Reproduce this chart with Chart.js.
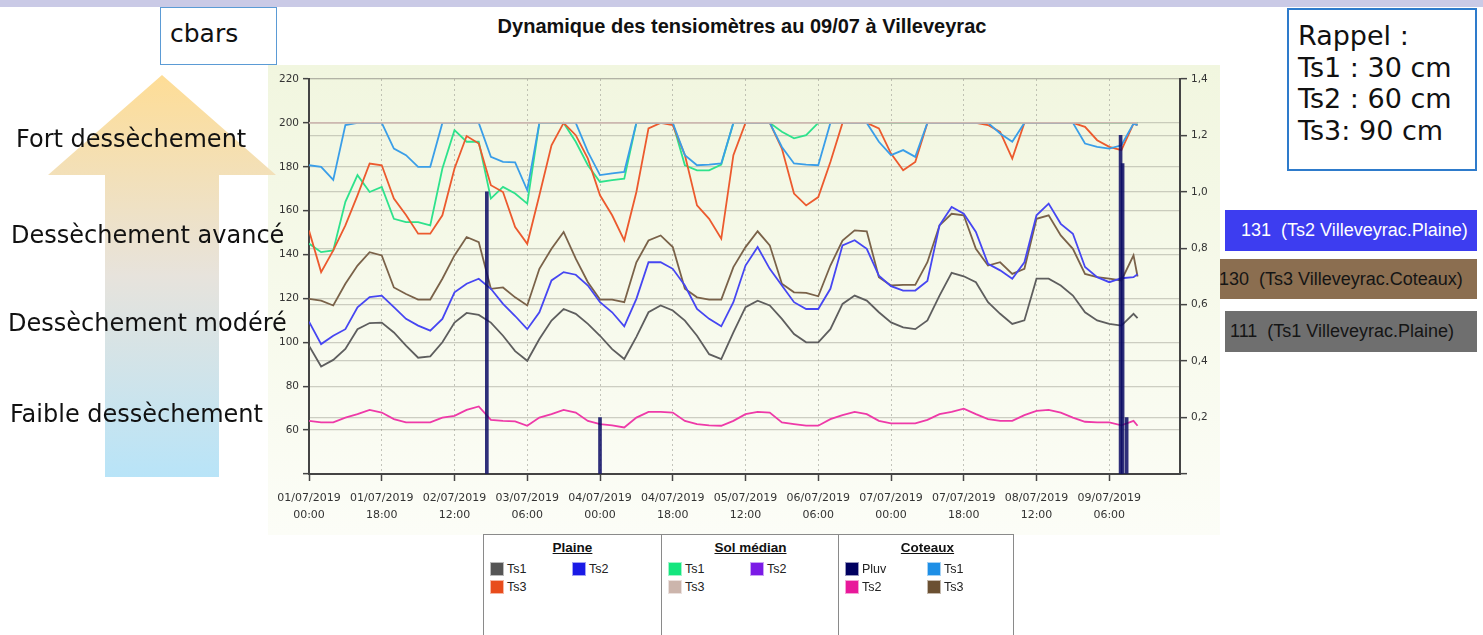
<!DOCTYPE html>
<html>
<head>
<meta charset="utf-8">
<script src="https://cdn.jsdelivr.net/npm/chart.js@4.4.0/dist/chart.umd.min.js"></script>
<style>
  body { margin: 0; width: 1483px; height: 635px; background: #fff; position: relative; overflow: hidden; font-family: "DejaVu Sans", sans-serif; }
  .abs { position: absolute; }
  #topbar { left: 0; top: 0; width: 1483px; height: 7px; background: #cacae6; }
  #title { left: 292px; top: 15px; width: 900px; text-align: center; font: bold 20px "Liberation Sans", Arial, sans-serif; color: #111; }
  #cbars { left: 160px; top: 7px; width: 117px; height: 58px; border: 1.5px solid #5b9bd5; box-sizing: border-box; font-size: 25px; padding: 11px 0 0 9px; color: #111; }
  #rappel { left: 1287px; top: 8px; width: 190px; height: 163px; border: 2px solid #2e7bcb; box-sizing: border-box; font-size: 27px; line-height: 31.5px; padding: 10px 0 0 9px; color: #111; white-space: nowrap; }
  .lvl { font-size: 24px; color: #111; white-space: nowrap; z-index: 3; }
  .tag { height: 41px; font: 18px "Liberation Sans", Arial, sans-serif; line-height: 41px; white-space: nowrap; overflow: hidden; box-sizing: border-box; }
  #chartBox { left: 268px; top: 65px; width: 952px; height: 470px; z-index: 1; }
  #arrow { z-index: 2; }
  #legend { left: 483px; top: 534px; width: 531px; height: 110px; border: 1.5px solid #8a8a8a; box-sizing: border-box; font-family: "Liberation Sans", Arial, sans-serif; z-index: 3; background: #fff; }
  .col { position: absolute; top: 0; width: 177px; height: 110px; }
  .col h4 { margin: 0; position: absolute; top: 5px; width: 100%; text-align: center; font-size: 13.5px; text-decoration: underline; color: #111; }
  .item { position: absolute; font-size: 12.5px; color: #222; line-height: 14px; }
  .item span { position: absolute; left: 0; top: 0; width: 14px; height: 14px; box-sizing: border-box; border: 1px solid rgba(255,255,255,0.6); }
  .item b { font-weight: normal; position: absolute; left: 17px; top: 0; }
</style>
</head>
<body>
<div id="topbar" class="abs"></div>
<div id="title" class="abs">Dynamique des tensiomètres au 09/07 à Villeveyrac</div>
<div id="cbars" class="abs">cbars</div>
<div id="rappel" class="abs">Rappel :<br>Ts1 : 30 cm<br>Ts2 : 60 cm<br>Ts3: 90 cm</div>

<svg id="arrow" class="abs" style="left:0;top:0" width="300" height="490">
  <defs>
    <linearGradient id="arrowGrad" x1="0" y1="75" x2="0" y2="477" gradientUnits="userSpaceOnUse">
      <stop offset="0" stop-color="#fedd96"/>
      <stop offset="0.5" stop-color="#e7e3dc"/>
      <stop offset="1" stop-color="#b8e4f8"/>
    </linearGradient>
  </defs>
  <polygon points="162,75 276,175 219,175 219,477 105,477 105,175 48,175" fill="url(#arrowGrad)"/>
</svg>
<div class="abs lvl" style="left:16px;top:125px">Fort dessèchement</div>
<div class="abs lvl" style="left:11px;top:221px">Dessèchement avancé</div>
<div class="abs lvl" style="left:8px;top:309px">Dessèchement modéré</div>
<div class="abs lvl" style="left:10px;top:400px">Faible dessèchement</div>

<div id="chartBox" class="abs"><canvas id="chart" width="952" height="470"></canvas></div>

<div class="abs tag" style="left:1225px;top:210px;width:252px;background:#3d3df0;color:#fff;padding-left:16px">131&nbsp; (Ts2 Villeveyrac.Plaine)</div>
<div class="abs tag" style="left:1219px;top:259px;width:258px;height:40px;line-height:40px;background:#8b6e50;color:#151515;padding-left:0">130&nbsp; (Ts3 Villeveyrac.Coteaux)</div>
<div class="abs tag" style="left:1225px;top:311px;width:252px;background:#6f6f6f;color:#151515;padding-left:5px">111&nbsp; (Ts1 Villeveyrac.Plaine)</div>

<div id="legend" class="abs"></div>

<script>
// time axis: hours since 01/07/2019 00:00
const hours = [0,3,6,9,12,15,18,21,24,27,30,33,36,39,42,45,48,51,54,57,60,63,66,69,72,75,78,81,84,87,90,93,96,99,102,105,108,111,114,117,120,123,126,129,132,135,138,141,144,147,150,153,156,159,162,165,168,171,174,177,180,183,186,189,192,195,198,201,204,205];

// Plaine
const plaineTs1 = [98.5,89,92,97,106,108.8,109,104.5,98.5,93,93.6,100,109,113.4,112.5,109,103,96,91.6,101.5,109.9,115.2,113,108.4,103,96.9,92.4,102.5,113.7,116.8,114.5,109.9,103,94.6,92.4,104.5,116,119,116.8,110.7,103.8,100,100,106,117.5,121.3,119,113.7,109.1,106.8,106,110,121.3,131.7,130.1,127.4,118.3,113,108.4,110,129,129,125.9,121.3,113.7,110,108.4,107.6,113,111];
const plaineTs2 = [109.4,99.2,103,106,116,120.6,121.3,116,110.7,107.6,105.3,110.7,122.8,126.7,129,124.4,117.5,112,106,113.7,128.2,132,130.8,125.9,118.3,113.7,107.3,119.8,136.5,136.5,133.5,125.9,115.2,110.7,107.3,118.3,135,143.4,133.5,125.9,118.3,115.2,115.2,124.4,144.2,146.5,142.6,130.4,125.6,123.6,123.6,128,153.3,161.7,158.6,150.3,135.8,132.8,129,136.5,157.9,163.2,154,149.5,134.3,129.7,127.4,129.2,129.7,131];
const plaineTs3 = [151,132,141.9,153.3,167,181.5,180.7,165.5,158,149.5,149.5,157.9,179.2,194,190.6,171.6,168.5,152.5,144.9,167,189.8,200,194.4,183.7,167,157.9,146.5,168.5,197.5,200,199,185.3,162.4,156.3,147.2,185.3,200,200,200,188.3,167.8,162.4,166.2,182.2,200,200,200,197.5,186,178.4,182.2,200,200,200,200,200,199,195.9,183.7,200,200,200,200,200,198.2,192.1,189.1,187.6,199.7,199];

// Sol médian
const solTs1 = [145,141.1,141.9,164,176.2,168.5,170.8,156.3,154.8,154.8,153.3,179.2,196.7,191.4,191.4,165.5,170.8,167.8,163.2,200,200,200,191.4,180.7,173.1,173.9,174.6,200,200,200,200,180.7,178.4,178.4,181,200,200,200,200,196,193,194.4,200,200,200,200,200,200,200,200,200,200,200,200,200,200,200,200,200,200,200,200,200,200,200,200,200,200,200,200];
const solTs2 = [];
const solTs3 = [200,200,200,200,200,200,200,200,200,200,200,200,200,200,200,200,200,200,200,200,200,200,200,200,200,200,200,200,200,200,200,200,200,200,200,200,200,200,200,200,200,200,200,200,200,200,200,200,200,200,200,200,200,200,200,200,200,200,200,200,200,200,200,200,200,200,200,200,200,200];

// Coteaux
const coteauxTs1 = [180.7,180,174,199,200,200,200,188.3,185.3,180,180,200,200,200,200,184.5,182.2,182,169.3,200,200,200,200,186.8,176.2,177,177.7,200,200,200,200,185.3,180.7,181,181.5,200,200,200,200,189,181.5,181,180.7,200,200,200,200,191.4,185.3,187.6,184.5,200,200,200,200,200,200,195.2,191.4,200,200,200,200,200,190.6,189.1,188.3,189.8,199.7,199];
const coteauxTs2 = [64.2,63.5,63.5,65.7,67.3,69.2,68,65,63.5,63.5,63.5,65.7,66.5,69.2,70.8,64.7,64.2,64,62,65.7,67.3,69.2,68,64.2,62.7,62.2,61.2,65.7,68.3,68.3,68,64.2,62.7,62.2,62,64.2,67.3,68.3,68,63.5,62.7,62,62,65,66.8,68.3,67.3,64.2,63.1,63.1,63.1,64.7,67.3,68.3,69.8,67.3,65,64.2,64.2,66.8,68.8,69.2,68,65.7,63.8,63.5,63.5,62.2,64.2,62];
const coteauxTs3 = [119.8,119,116.8,126.7,135,141.1,139.6,125,122,119.5,119.5,129,139.6,148,145.7,124.4,125,120.5,116.8,133.5,142.6,150.3,138.1,127.4,119.5,119.5,118.3,136.5,146.4,148.7,143.4,124.4,120.5,119.5,119.5,134.3,143.4,150.6,144.2,126.7,122.8,122.5,121,135,146.4,151,150.6,129.7,125.9,126.2,126.2,136.5,153.3,158.6,157.9,142.6,135,136.5,131.2,133.5,156.3,157.9,148.7,142.6,131.2,129.7,129,128.2,139.6,130];
const pluvHours = [44, 72, 200.8, 201.3, 202.3];
const pluvValues = [1.0, 0.2, 1.2, 1.1, 0.2];

// x tick labels
const xTickHours = [0,18,36,54,72,90,108,126,144,162,180,198];
const xTickDates = ['01/07/2019','01/07/2019','02/07/2019','03/07/2019','04/07/2019','04/07/2019','05/07/2019','06/07/2019','07/07/2019','07/07/2019','08/07/2019','09/07/2019'];
const xTickTimes = ['00:00','18:00','12:00','06:00','00:00','18:00','12:00','06:00','00:00','18:00','12:00','06:00'];

// legend groups
const legendGroups = [
  { name: 'Plaine', items: [['Ts1','#555555'],['Ts2','#1a1ae6'],['Ts3','#e84c1c']] },
  { name: 'Sol médian', items: [['Ts1','#14e67e'],['Ts2','#7b1ae6'],['Ts3','#ccb5ac']] },
  { name: 'Coteaux', items: [['Pluv','#000060'],['Ts1','#1e8fe6'],['Ts2','#e8189a'],['Ts3','#6b5032']] }
];

const legend = document.getElementById('legend');
legendGroups.forEach((g, gi) => {
  const col = document.createElement('div');
  col.className = 'col';
  col.style.left = (gi * 177) + 'px';
  if (gi > 0) col.style.borderLeft = '1.5px solid #8a8a8a';
  col.innerHTML = '<h4>' + g.name + '</h4>';
  g.items.forEach((it, i) => {
    const d = document.createElement('div');
    d.className = 'item';
    d.style.left = (i % 2 ? 88 : 6) + 'px';
    d.style.top = (Math.floor(i / 2) ? 45 : 27) + 'px';
    d.innerHTML = '<span style="background:' + it[1] + '"></span><b>' + it[0] + '</b>';
    col.appendChild(d);
  });
  legend.appendChild(col);
});

function pts(arr) { return arr.map((v, i) => ({ x: hours[i], y: v })); }

function line(label, arr, color, order) {
  return { type: 'line', label: label, data: pts(arr), borderColor: color, borderWidth: 1.8,
           pointRadius: 0, tension: 0, fill: false, yAxisID: 'y', order: order };
}

const bgPlugin = {
  id: 'bg',
  beforeDraw(chart) {
    const { ctx, width, height } = chart;
    const g = ctx.createLinearGradient(0, 0, 0, height);
    g.addColorStop(0, '#f1f6df');
    g.addColorStop(1, '#fcfdf7');
    ctx.save();
    ctx.fillStyle = g;
    ctx.fillRect(0, 0, width, height);
    ctx.restore();
  }
};

const tickFont = { family: 'DejaVu Sans', size: 10.5 };
const gridCol = 'rgba(150,150,140,0.45)';

const chart = new Chart(document.getElementById('chart'), {
  type: 'line',
  data: {
    datasets: [
      { type: 'bar', label: 'Pluv', data: pluvHours.map((h, i) => ({ x: h, y: pluvValues[i] })),
        backgroundColor: 'rgba(10,10,100,0.85)', barThickness: 3, yAxisID: 'y2', order: 0, grouped: false },
      line('Sol médian Ts3', solTs3, '#cdb8b0', 1),
      line('Plaine Ts3', plaineTs3, '#ec5a2e', 3),
      line('Sol médian Ts1', solTs1, '#2ee28c', 4),
      line('Coteaux Ts1', coteauxTs1, '#3a9ee8', 2),
      line('Coteaux Ts3', coteauxTs3, '#7a6249', 6),
      line('Plaine Ts2', plaineTs2, '#4646f2', 5),
      line('Plaine Ts1', plaineTs1, '#5e5e5e', 7),
      line('Coteaux Ts2', coteauxTs2, '#ee3aa8', 8)
    ]
  },
  options: {
    responsive: false, animation: false,
    layout: { padding: { top: 14, left: 0, right: 0, bottom: 0 } },
    plugins: { legend: { display: false }, tooltip: { enabled: false } },
    scales: {
      x: {
        type: 'linear', min: 0, max: 215.5, offset: false,
        afterBuildTicks: s => { s.ticks = xTickHours.map(v => ({ value: v })); },
        afterFit: s => { s.height = 61; },
        ticks: { autoSkip: false, maxRotation: 0, padding: 9, color: '#333',
                 font: { family: 'DejaVu Sans', size: 11, lineHeight: 1.5 },
                 callback: (v, i) => [xTickDates[i], xTickTimes[i]] },
        grid: { offset: false, color: 'rgba(150,150,140,0.55)', lineWidth: 1, tickLength: 7, tickColor: '#444', tickWidth: 1.5 },
        border: { display: true, color: '#444', width: 2, dash: [2, 3] }
      },
      y: {
        position: 'left', min: 40, max: 220,
        afterFit: s => { s.width = 41; },
        ticks: { stepSize: 20, padding: 4, color: '#333', font: tickFont, callback: v => v === 40 ? '' : v },
        grid: { color: c => c.tick && c.tick.value === 40 ? 'rgba(0,0,0,0)' : gridCol, lineWidth: 1.3, tickLength: 6, tickColor: '#444', tickWidth: 1.5 },
        border: { color: '#444', width: 2 }
      },
      y2: {
        position: 'right', min: 0, max: 1.4,
        afterFit: s => { s.width = 40; },
        ticks: { stepSize: 0.2, padding: 4, color: '#333', font: tickFont,
                 callback: v => v < 0.01 ? '' : v.toFixed(1).replace('.', ',') },
        grid: { color: c => c.tick && c.tick.value < 0.01 ? 'rgba(0,0,0,0)' : gridCol, lineWidth: 1.3, tickLength: 7, tickColor: '#444', tickWidth: 1.5 },
        border: { color: '#444', width: 2 }
      }
    }
  },
  plugins: [bgPlugin]
});
</script>
</body>
</html>
